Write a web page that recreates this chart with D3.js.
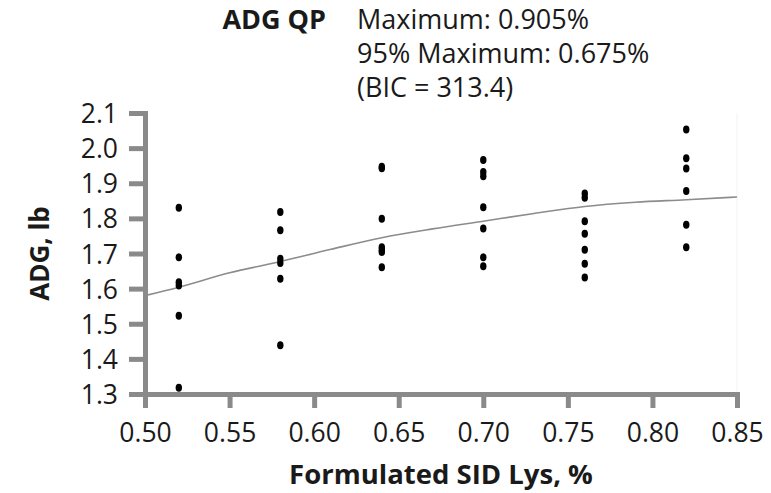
<!DOCTYPE html>
<html>
<head>
<meta charset="utf-8">
<script src="https://cdn.jsdelivr.net/npm/d3@7"></script>
<style>
  body { margin: 0; background: #fff; }
  text { font-family: "Open Sans", sans-serif; fill: #1a1a1a; }
</style>
</head>
<body>
<svg id="chart" width="771" height="493"></svg>
<script>
// observed pens, one array per formulated lysine level
const lysLevels = [0.52, 0.58, 0.64, 0.70, 0.76, 0.82];
const adg052 = [1.830, 1.689, 1.618, 1.609, 1.523, 1.318];
const adg058 = [1.818, 1.766, 1.685, 1.673, 1.628, 1.439];
const adg064 = [1.947, 1.943, 1.799, 1.718, 1.710, 1.704, 1.661];
const adg070 = [1.966, 1.932, 1.920, 1.832, 1.771, 1.689, 1.664];
const adg076 = [1.871, 1.859, 1.792, 1.756, 1.711, 1.671, 1.632];
const adg082 = [2.053, 1.971, 1.942, 1.878, 1.782, 1.718];

// fitted QP curve
const fitX = [0.50, 0.52, 0.55, 0.58, 0.61, 0.64, 0.67, 0.70, 0.73, 0.76, 0.79, 0.82, 0.85];
const fitY = [1.580, 1.604, 1.645, 1.677, 1.712, 1.745, 1.770, 1.792, 1.814, 1.834, 1.846, 1.853, 1.861];

const xTicks = [0.50, 0.55, 0.60, 0.65, 0.70, 0.75, 0.80, 0.85];
const yTicks = [1.3, 1.4, 1.5, 1.6, 1.7, 1.8, 1.9, 2.0, 2.1];
const titleLines = ["Maximum: 0.905%", "95% Maximum: 0.675%", "(BIC = 313.4)"];

const svg = d3.select("#chart");
const axisGrey = "#8a8a8a";

const x = d3.scaleLinear().domain([0.50, 0.85]).range([145, 737]);
const y = d3.scaleLinear().domain([1.3, 2.1]).range([394, 113]);

// faint right border
svg.append("line")
    .attr("x1", x(0.85)).attr("x2", x(0.85))
    .attr("y1", y(2.1)).attr("y2", y(1.3))
    .attr("stroke", "#f2f2f2").attr("stroke-width", 1);

const xAxis = svg.append("g")
    .attr("transform", "translate(0," + y(1.3) + ")")
    .call(d3.axisBottom(x).tickValues(xTicks).tickFormat(d3.format(".2f")).tickSizeOuter(0).tickSize(14).tickPadding(15));
const yAxis = svg.append("g")
    .attr("transform", "translate(" + x(0.5) + ",0)")
    .call(d3.axisLeft(y).tickValues(yTicks).tickFormat(d3.format(".1f")).tickSizeOuter(0).tickSize(16).tickPadding(11));

[xAxis, yAxis].forEach(function (g) {
    g.select(".domain").attr("stroke", axisGrey).attr("stroke-width", 5);
    g.selectAll(".tick line").attr("stroke", axisGrey).attr("stroke-width", 5);
    g.selectAll(".tick text")
        .style("font-family", "'Open Sans', sans-serif")
        .style("font-size", "26.5px")
        .attr("fill", "#1a1a1a");
});
yAxis.selectAll(".tick text").attr("dy", "0.36em");

// fitted line
const fit = fitX.map(function (d, i) { return [d, fitY[i]]; });
svg.append("path")
    .datum(fit)
    .attr("fill", "none")
    .attr("stroke", "#8c8c8c")
    .attr("stroke-width", 1.6)
    .attr("d", d3.line()
        .x(function (d) { return x(d[0]); })
        .y(function (d) { return y(d[1]); })
        .curve(d3.curveMonotoneX));

// points
const groups = [adg052, adg058, adg064, adg070, adg076, adg082];
const pts = [];
groups.forEach(function (vals, i) {
    vals.forEach(function (v) { pts.push({lys: lysLevels[i], adg: v}); });
});
svg.append("g").selectAll("ellipse")
    .data(pts)
    .enter().append("ellipse")
    .attr("cx", function (d) { return x(d.lys); })
    .attr("cy", function (d) { return y(d.adg); })
    .attr("rx", 3.2)
    .attr("ry", 4)
    .attr("fill", "#000");

// titles
svg.append("text")
    .attr("x", 326).attr("y", 29)
    .attr("text-anchor", "end")
    .style("font-weight", "bold")
    .style("font-size", "27px")
    .text("ADG QP");
svg.append("g").selectAll("text")
    .data(titleLines)
    .enter().append("text")
    .attr("x", 357)
    .attr("y", function (d, i) { return 29 + i * 34; })
    .style("font-size", "27px")
    .text(function (d) { return d; });

svg.append("text")
    .attr("transform", "translate(49," + y(1.7) + ") rotate(-90)")
    .attr("text-anchor", "middle")
    .style("font-weight", "bold")
    .style("font-size", "26px")
    .text("ADG, lb");

svg.append("text")
    .attr("x", 441).attr("y", 484)
    .attr("text-anchor", "middle")
    .style("font-weight", "bold")
    .style("font-size", "27.5px")
    .text("Formulated SID Lys, %");
</script>
</body>
</html>
